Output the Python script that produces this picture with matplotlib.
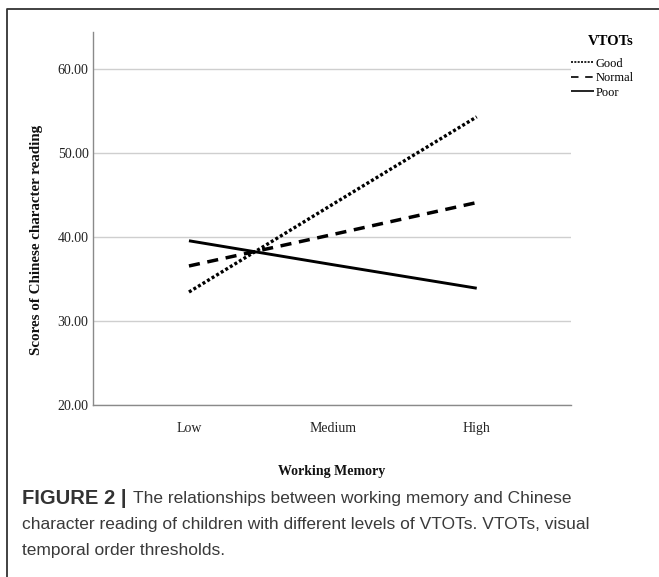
import matplotlib
matplotlib.use("Agg")
import matplotlib.pyplot as plt
from matplotlib.lines import Line2D

W, H = 659, 577

categories = ["Low", "Medium", "High"]
good = [33.45, 43.9, 54.3]
normal = [36.55, 40.3, 44.1]
poor = [39.55, 36.7, 33.9]
series_names = ["Good", "Normal", "Poor"]
yticks = [20, 30, 40, 50, 60]

serif = "Liberation Serif"
sans = "Liberation Sans"

fig = plt.figure(figsize=(W / 100, H / 100), dpi=100)

def fx(px):
    return px / W

def fy(py):
    return 1 - py / H

ax_left, ax_right, ax_top, ax_bottom = 92.7, 571, 32, 405
ax = fig.add_axes([fx(ax_left), fy(ax_bottom), fx(ax_right - ax_left), (ax_bottom - ax_top) / H])

xs = list(range(len(categories)))
l1, = ax.plot(xs, good, color="black", lw=2.4, linestyle=(0, (0.9, 0.7)), dash_capstyle="butt", zorder=3)
l2, = ax.plot(xs, normal, color="black", lw=2.5, linestyle=(0, (3.2, 2.2)), dash_capstyle="butt", zorder=3)
l3, = ax.plot(xs, poor, color="black", lw=2.1, linestyle="-", solid_capstyle="butt", zorder=3)

ax.set_xlim(-0.669, 2.655)
ax.set_ylim(20, 64.4)
ax.set_yticks(yticks)
ax.set_yticklabels([f"{v:.2f}" for v in yticks], fontfamily=serif, fontsize=10, color="#222222")
ax.set_xticks(xs)
ax.set_xticklabels(categories, fontfamily=serif, fontsize=10, color="#222222")
ax.tick_params(axis="both", length=0)
ax.tick_params(axis="y", pad=3)
ax.tick_params(axis="x", pad=12.5)
ax.grid(axis="y", color="#cfcfcf", lw=1.0)
ax.set_axisbelow(True)
for s in ["top", "right"]:
    ax.spines[s].set_visible(False)
for s in ["left", "bottom"]:
    ax.spines[s].set_color("#8a8a8a")
    ax.spines[s].set_linewidth(1.0)

fig.text(fx(332), fy(471), "Working Memory", ha="center", va="center",
         fontfamily=serif, fontweight="bold", fontsize=10, color="#111111")
fig.text(fx(37), fy(240), "Scores of Chinese character reading", ha="center", va="center",
         rotation=90, fontfamily=serif, fontweight="bold", fontsize=10.8, color="#111111")

leg = fig.legend([l1, l2, l3], series_names, loc="upper left",
                 bbox_to_anchor=(fx(571), fy(35)), frameon=False,
                 title="VTOTs", prop={"family": serif, "size": 9},
                 handlelength=1.8, handletextpad=0.15, labelspacing=0.2,
                 borderpad=0, borderaxespad=0, alignment="right")
leg.get_title().set_fontfamily(serif)
leg.get_title().set_fontsize(10.5)
leg.get_title().set_fontweight("semibold")
leg._legend_box.sep = 7
for h in leg.legend_handles:
    h.set_linewidth(1.2)
leg.legend_handles[0].set_linestyle((0, (1.2, 0.8)))
leg.legend_handles[1].set_linestyle((0, (4.5, 4)))

# border lines
fig.add_artist(Line2D([fx(7), fx(7), fx(659)], [0, fy(9), fy(9)], transform=fig.transFigure,
                      color="#333333", lw=1.3))

# caption
cap_size = 12.5
cap_color = "#3a3a3a"
fig.text(fx(22), fy(498), "FIGURE 2 |", ha="left", va="center", fontfamily=sans,
         fontweight="bold", fontsize=14.5, color="#333333")
fig.text(fx(133), fy(498), "The relationships between working memory and Chinese",
         ha="left", va="center", fontfamily=sans, fontsize=cap_size, color=cap_color)
fig.text(fx(22), fy(525), "character reading of children with different levels of VTOTs. VTOTs, visual",
         ha="left", va="center", fontfamily=sans, fontsize=cap_size, color=cap_color)
fig.text(fx(22), fy(551), "temporal order thresholds.",
         ha="left", va="center", fontfamily=sans, fontsize=cap_size, color=cap_color)

fig.savefig("out.png", dpi=100)
